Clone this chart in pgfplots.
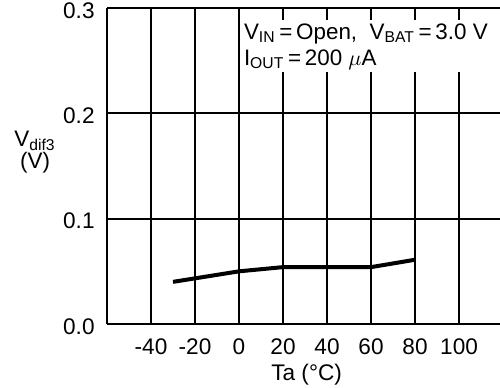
\documentclass[border=0pt]{standalone}
\usepackage{fontspec}
\setmainfont{Liberation Sans}
\usepackage{pgfplots}
\pgfplotsset{compat=1.18}
\begin{document}
\fontsize{11bp}{13.5bp}\selectfont
\begin{tikzpicture}
\path[use as bounding box] (-53.5bp,-32bp) rectangle (196.5bp,162bp);
\begin{axis}[
  scale only axis, width=196.5bp, height=158bp,
  at={(0,0)}, anchor=south west,
  xmin=-60, xmax=118.6, ymin=0, ymax=0.3,
  axis x line*=bottom, axis y line*=left,
  axis line style={line width=1.1bp, black},
  xtick={-40,-20,0,20,40,60,80,100},
  xticklabels={-40,-20,0,20,40,60,80,100},
  ytick={0,0.1,0.2,0.3},
  yticklabels={0.0,0.1,0.2,0.3},
  major tick length=0pt,
  grid=major,
  major grid style={black, line width=0.9bp},
  x tick label style={font=\fontsize{11.3bp}{13bp}\selectfont, anchor=north, inner sep=0pt, yshift=-7bp},
  y tick label style={font=\fontsize{11.3bp}{13bp}\selectfont, anchor=east, inner sep=0pt, xshift=-6bp, yshift=-1.2bp},
  clip=false,
]
\addplot[black, line width=2bp] coordinates {(-30,0.040) (0,0.050) (20,0.054) (40,0.054) (60,0.054) (80,0.061)};
\node[fill=white, anchor=north west, align=left, inner sep=1.5bp, font=\fontsize{11.2bp}{13bp}\selectfont] at (axis description cs:0.34,0.962)
  {V\textsubscript{IN}\,=\,Open,\ \ V\textsubscript{BAT}\,=\,3.0 V\\ I\textsubscript{OUT}\,=\,200 $\mu$A};
\node[align=center, font=\fontsize{11.2bp}{11bp}\selectfont] at (axis description cs:-0.183,0.544) {V\textsubscript{dif3}\\(V)};
\node[anchor=north, inner sep=0pt, font=\fontsize{11.3bp}{13bp}\selectfont] at (axis description cs:0.508,-0.125) {Ta (°C)};
\end{axis}
\end{tikzpicture}
\end{document}
